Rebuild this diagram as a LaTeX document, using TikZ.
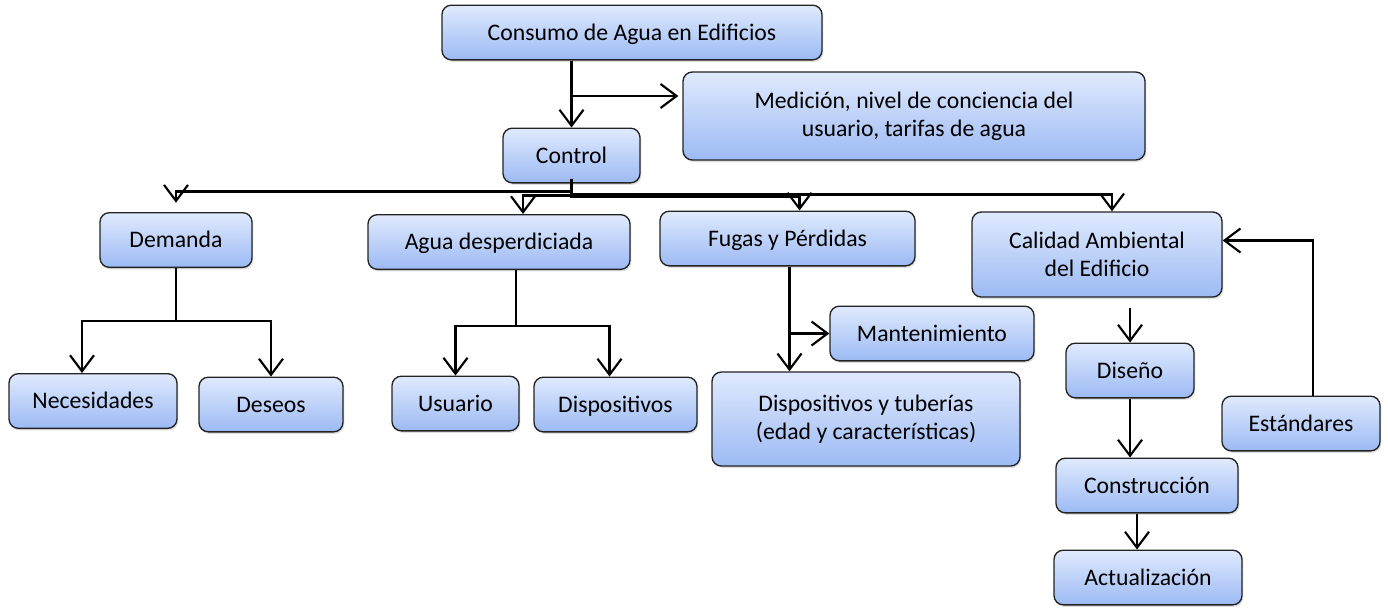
\documentclass[tikz,border=0pt]{standalone}
\usepackage{fontspec}
\setmainfont{Carlito}
\usetikzlibrary{arrows.meta,shadows,calc}

\definecolor{bordecaja}{RGB}{35,35,35}
\definecolor{azularriba}{RGB}{224,234,253}
\definecolor{azulabajo}{RGB}{156,186,244}

\begin{document}
\begin{tikzpicture}[x=0.75pt,y=0.75pt,yscale=-1,xscale=1,
  caja/.style={draw=bordecaja, line width=1pt, rounded corners=7pt, top color=azularriba, bottom color=azulabajo, align=center, inner sep=0.75pt, minimum height=41pt, font=\fontsize{17.8}{21}\selectfont, drop shadow={opacity=0.25, shadow xshift=1pt, shadow yshift=-1.5pt}},
  una/.style={text height=11.5pt, text depth=0pt},
  flecha/.style={line width=1.9pt, -{Straight Barb[length=12pt,width=18pt,line width=1.6pt]}},
  linea/.style={line width=1.9pt}]
\useasboundingbox (0,0) rectangle (1388,608);

%Shape: Rounded Rect (boxes)
\node [caja, una, minimum width=285pt] (cons) at (632,32.5) {Consumo de Agua en Edificios};
\node [caja, minimum width=346.5pt, minimum height=66pt] (medi) at (914,116) {Medición, nivel de conciencia del\\usuario, tarifas de agua};
\node [caja, una, minimum width=102.75pt] (ctrl) at (571.5,155.5) {Control};
\node [caja, una, minimum width=114pt] (dem) at (176,240) {Demanda};
\node [caja, una, minimum width=196.5pt] (agua) at (499,242) {Agua desperdiciada};
\node [caja, una, minimum width=191.25pt] (fug) at (787.5,238.5) {Fugas y Pérdidas};
\node [caja, minimum width=187.5pt, minimum height=63.75pt] (cal) at (1097,254.5) {Calidad Ambiental\\del Edificio};
\node [caja, una, minimum width=126pt] (nec) at (93,401) {Necesidades};
\node [caja, una, minimum width=108pt] (des) at (271,404.5) {Deseos};
\node [caja, una, minimum width=95.25pt] (usu) at (455.5,403.5) {Usuario};
\node [caja, una, minimum width=122.25pt] (disp) at (615.5,404.5) {Dispositivos};
\node [caja, una, minimum width=153pt] (mant) at (932,333.5) {Mantenimiento};
\node [caja, minimum width=231pt, minimum height=70.5pt] (dtub) at (866,419) {Dispositivos y tuberías\\(edad y características)};
\node [caja, una, minimum width=96pt] (dise) at (1130,370.5) {Diseño};
\node [caja, una, minimum width=118.5pt] (est) at (1301,423.5) {Estándares};
\node [caja, una, minimum width=136.5pt] (constr) at (1147,485.5) {Construcción};
\node [caja, una, minimum width=141pt] (act) at (1148,577.5) {Actualización};

%Straight Lines (top)
\coordinate (ramaA) at (571.5,96);
\draw [flecha] (cons.south -| ctrl.north) -- (ctrl.north);
\draw [flecha, shorten >=3pt] (ramaA) -- (ramaA -| medi.west);

%Straight Lines (control bus)
\draw [flecha, shorten >=7pt] (ctrl.south) ++(0,-5) -- ++(0,13) -| (dem.north);
\draw [flecha] (ctrl.south) ++(0,-5) -- ++(0,17) -| ($(agua.north)+(24,0)$);
\draw [flecha] (ctrl.south) ++(0,-5) -- ++(0,18) -| ($(fug.north)+(12,0)$);
\draw [flecha] (ctrl.south) ++(0,-5) -- ++(0,16) -| ($(cal.north)+(15,0)$);

%Straight Lines (Demanda)
\draw [linea] (dem.south) -- ++(0,53) coordinate (nodoD);
\draw [flecha] (nodoD) -| ($(nec.north)+(-11,0)$);
\draw [flecha] (nodoD) -| (des.north);

%Straight Lines (Agua desperdiciada)
\draw [linea] ($(agua.south)+(17,0)$) -- ++(0,56) coordinate (nodoA);
\draw [flecha] (nodoA) -| (usu.north);
\draw [flecha] (nodoA) -| ($(disp.north)+(-6,0)$);

%Straight Lines (Fugas)
\coordinate (bajaF) at ($(fug.south)+(2,0)$);
\draw [flecha] (bajaF) -- (bajaF |- dtub.north);
\draw [flecha] (bajaF |- mant.west) -- (mant.west);

%Straight Lines (Calidad)
\draw [flecha] (dise.north |- cal.south) ++(0,10) -- (dise.north);
\draw [flecha] (dise.south) -- (dise.south |- constr.north);
\coordinate (bajaC) at ($(constr.south)+(-10,0)$);
\draw [flecha] (bajaC) -- (bajaC |- act.north);
\coordinate (subeE) at ($(est.north)+(12,0)$);
\draw [flecha] (subeE) |- ($(cal.east)+(0,-14)$);

\end{tikzpicture}
\end{document}
